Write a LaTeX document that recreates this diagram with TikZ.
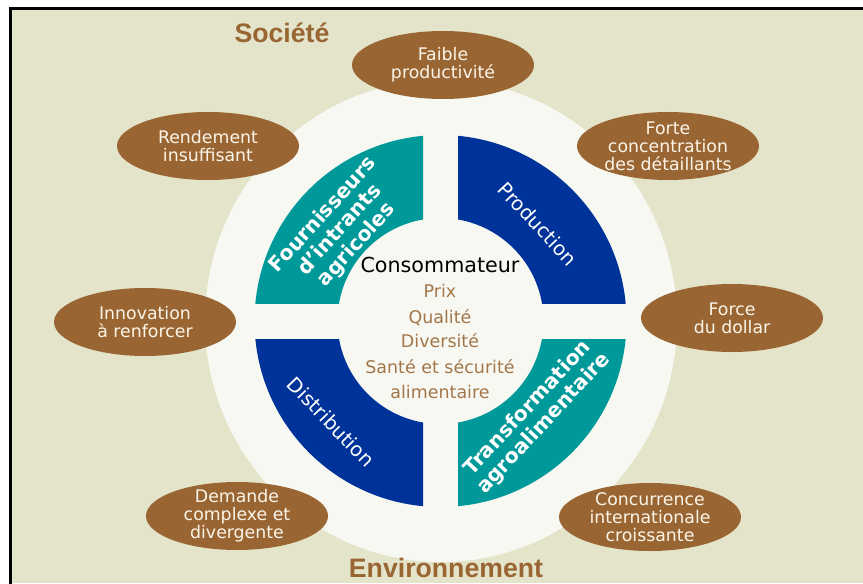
\documentclass[tikz,border=0pt]{standalone}
\usepackage{fontspec}
\setmainfont{DejaVu Sans}
\newfontfamily\headfont{Liberation Sans}
\usetikzlibrary{shapes.geometric}
\definecolor{bgbeige}{HTML}{E4E4CB}
\definecolor{offwhite}{HTML}{F7F8F2}
\definecolor{qteal}{HTML}{00999A}
\definecolor{qblue}{HTML}{003399}
\definecolor{bubbrown}{HTML}{996633}
\definecolor{lightbrown}{HTML}{A3764A}
\definecolor{cream}{HTML}{FBF5E9}
\tikzset{
  bubble/.style={ellipse, fill=bubbrown, minimum width=136.5pt, minimum height=51pt, inner sep=0pt},
  btext/.style={text=cream, align=center, inner sep=0pt, font=\fontsize{13}{13.4}\selectfont},
  qbold/.style={text=white, align=center, inner sep=0pt, font=\fontsize{15.3}{16.8}\selectfont\bfseries},
  qreg/.style={text=white, align=center, inner sep=0pt, font=\fontsize{14.8}{17}\selectfont},
  cons/.style={text=black, anchor=base, inner sep=0pt, font=\fontsize{15.5}{18}\selectfont},
  citem/.style={text=lightbrown, anchor=base, inner sep=0pt, font=\fontsize{13.1}{15}\selectfont},
  head/.style={text=bubbrown, anchor=base, inner sep=0pt, font=\headfont\fontsize{20}{24}\selectfont\bfseries}
}
\begin{document}
\begin{tikzpicture}[x=0.75pt,y=0.75pt]
\useasboundingbox (0,0) rectangle (863,583);
\fill[white] (0,0) rectangle (863,583);
\fill[bgbeige] (11.5,0) rectangle (863,573.5);
\draw[line width=1.9pt] (10.3,-5) -- (10.3,574.7) -- (870,574.7);
% big light circle
\fill[offwhite] (441,262) ellipse [x radius=236, y radius=241];
% quadrants
\begin{scope}
  \clip (0,280) rectangle (423,583);
  \fill[qteal, even odd rule] (440.5,262) circle [radius=186] (440.5,262) circle [radius=103];
\end{scope}
\begin{scope}
  \clip (458,280) rectangle (863,583);
  \fill[qblue, even odd rule] (440.5,262) circle [radius=186] (440.5,262) circle [radius=103];
\end{scope}
\begin{scope}
  \clip (0,0) rectangle (423,244);
  \fill[qblue, even odd rule] (440.5,262) circle [radius=186] (440.5,262) circle [radius=103];
\end{scope}
\begin{scope}
  \clip (458,0) rectangle (863,244);
  \fill[qteal, even odd rule] (440.5,262) circle [radius=186] (440.5,262) circle [radius=103];
\end{scope}
% quadrant labels
\node[qbold, rotate=48] (fourn) at (340,353) {Fournisseurs\\d'intrants\\agricoles};
\node[qreg, rotate=-47] (prod) at (538,359) {Production};
\node[qreg, rotate=-46] (distr) at (331,161) {Distribution};
\node[qbold, rotate=47] (transf) at (536,167) {Transformation\\agroalimentaire};
% centre
\node[cons] (c0) at (440,311) {Consommateur};
\node[citem] (c1) at (440,286) {Prix};
\node[citem] (c2) at (440,260) {Qualité};
\node[citem] (c3) at (440,236) {Diversité};
\node[citem] (c4) at (440,210) {Santé et sécurité};
\node[citem] (c5) at (440,185) {alimentaire};
% bubbles
\node[bubble] (e1) at (443,518) {};
\node[btext] (t1) at (e1) {Faible\\productivité};
\node[bubble] (e2) at (208,437) {};
\node[btext] (t2) at (e2) {Rendement\\insuffisant};
\node[bubble] (e3) at (145,261) {};
\node[btext] (t3) at (e3) {Innovation\\à renforcer};
\node[bubble] (e4) at (668,437) {};
\node[btext] (t4) at (e4) {Forte\\concentration\\des détaillants};
\node[bubble] (e5) at (732,265) {};
\node[btext] (t5) at (e5) {Force\\du dollar};
\node[bubble] (e6) at (237,67) {};
\node[btext] (t6) at (e6) {Demande\\complexe et\\divergente};
\node[bubble] (e7) at (650,66) {};
\node[btext] (t7) at (e7) {Concurrence\\internationale\\croissante};
% headings
\node[head] (soc) at (282,540) {Société};
\node[head] (env) at (446,6) {Environnement};
\end{tikzpicture}
\end{document}
